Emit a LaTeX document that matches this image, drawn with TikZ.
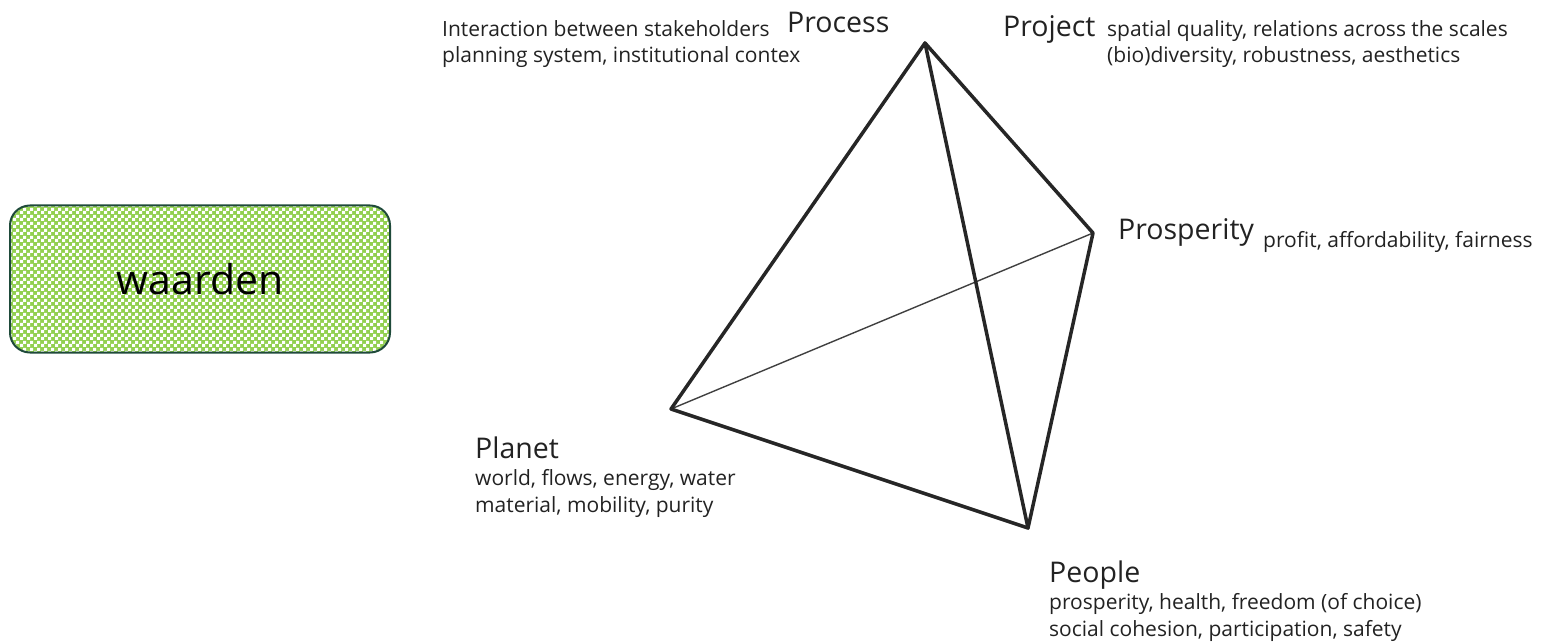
\documentclass[tikz,border=0pt]{standalone}
\usepackage{fontspec}
\setmainfont{Open Sans}
\usetikzlibrary{positioning,patterns}

\definecolor{boxgreen}{HTML}{92D050}
\definecolor{boxedge}{HTML}{1F4A3A}
\definecolor{inktext}{HTML}{222222}

% small green/white checks for the box
\pgfdeclarepatternformonly{greenchecks}{\pgfqpoint{0pt}{0pt}}{\pgfqpoint{6.6pt}{6.6pt}}{\pgfqpoint{6.6pt}{6.6pt}}{
  \pgfpathrectangle{\pgfqpoint{0pt}{0pt}}{\pgfqpoint{3.3pt}{3.3pt}}
  \pgfpathrectangle{\pgfqpoint{3.3pt}{3.3pt}}{\pgfqpoint{3.3pt}{3.3pt}}
  \pgfusepath{fill}}

\begin{document}
\begin{tikzpicture}[x=1pt, y=-1pt,
valuebox/.style={rectangle, rounded corners=20pt, draw=boxedge, line width=2pt, preaction={fill=boxgreen}, pattern=greenchecks, pattern color=white, minimum width=380pt, minimum height=147pt, font=\fontsize{41}{48}\selectfont, text=black},
cornerlabel/.style={inner sep=0pt, anchor=base west, text=inktext, font=\fontsize{28.5}{34}\selectfont},
notelabel/.style={inner sep=0pt, anchor=base west, align=left, text=inktext, font=\fontsize{21}{26.5}\selectfont},
edge/.style={line width=3.5pt, line join=round, line cap=round, black!85},
backedge/.style={line width=1.4pt, black!75},
]

\useasboundingbox (0,0) rectangle (1542,644);

\node[valuebox] (Waarden) at (200,279) {waarden};

% corners of the tetrahedron
\coordinate (Apex)   at (925,43);
\coordinate (Right)  at (1093,233);
\coordinate (Left)   at (671,409);
\coordinate (Bottom) at (1028,528);

\draw[backedge] (Left) -- (Right);
\draw[edge] (Left) -- (Apex) -- (Right) -- (Bottom) -- cycle;
\draw[edge] (Apex) -- (Bottom);

\node[cornerlabel] (Process)    at (787,33)   {Process};
\node[cornerlabel] (Project)    at (1003,37)  {Project};
\node[cornerlabel] (Prosperity) at (1118,240) {Prosperity};
\node[cornerlabel] (Planet)     at (475,458)  {Planet};
\node[cornerlabel] (People)     at (1049,582) {People};

% notes, placed by the baseline of their last line
\node[notelabel] (ProcessNote)    at (442,63)   {Interaction between stakeholders\\planning system, institutional contex};
\node[notelabel] (ProjectNote)    at (1107,63)  {spatial quality, relations across the scales\\(bio)diversity, robustness, aesthetics};
\node[notelabel] (ProsperityNote) at (1263,248) {profit, affordability, fairness};
\node[notelabel] (PlanetNote)     at (475,512)  {world, flows, energy, water\\material, mobility, purity};
\node[notelabel] (PeopleNote)     at (1049,636) {prosperity, health, freedom (of choice)\\social cohesion, participation, safety};

\end{tikzpicture}
\end{document}
